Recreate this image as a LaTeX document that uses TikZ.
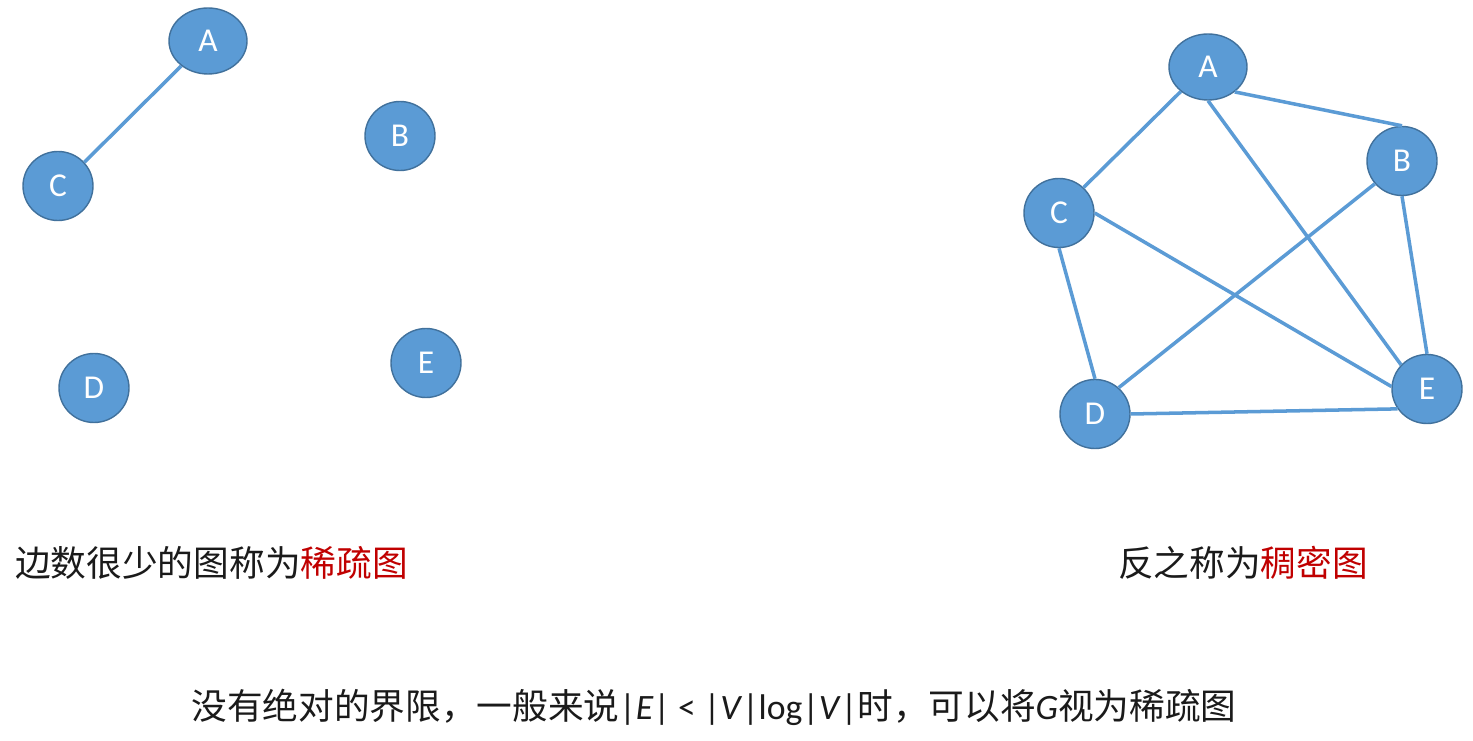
\documentclass[tikz,border=0pt]{standalone}
\usepackage{fontspec}
\setmainfont{Carlito}
\newfontfamily\cjk{Noto Sans CJK SC}
\newfontfamily\lat{Carlito}
\usetikzlibrary{shapes.geometric}

\definecolor{vfill}{HTML}{5B9BD5}
\definecolor{vline}{HTML}{41719C}
\definecolor{sred}{HTML}{C00000}
\definecolor{txt}{HTML}{1A1A1A}

\tikzset{
  vertex/.style={ellipse, fill=vfill, draw=vline, line width=0.8pt,
    minimum width=1.4cm, minimum height=1.38cm, inner sep=0pt,
    text=white, font=\lat\fontsize{19}{22}\selectfont},
  wide/.style={minimum width=1.56cm, minimum height=1.32cm},
  edge/.style={draw=vfill, line width=2pt},
  caption/.style={font=\cjk\fontsize{20.3}{24}\selectfont, text=txt, inner sep=0pt}
}

\begin{document}
\begin{tikzpicture}

\useasboundingbox (0,0) rectangle (29.46,-14.82);

% sparse graph
\node[vertex, wide] (lA) at (4.16, -0.82) {A};
\node[vertex] (lB) at (8.00, -2.72) {B};
\node[vertex] (lC) at (1.16, -3.72) {C};
\node[vertex] (lD) at (1.88, -7.76) {D};
\node[vertex] (lE) at (8.52, -7.26) {E};

\draw[edge] (lA.223) -- (lC.42);

% dense graph
\node[vertex, wide] (rA) at (24.16, -1.34) {A};
\node[vertex] (rB) at (28.04, -3.22) {B};
\node[vertex] (rC) at (21.18, -4.26) {C};
\node[vertex] (rD) at (21.90, -8.28) {D};
\node[vertex] (rE) at (28.54, -7.78) {E};

\draw[edge] (rA.222) -- (rC.46);
\draw[edge] (rA.317) -- (rB.north);
\draw[edge] (rA.south) -- (rE.137);
\draw[edge] (rC.east) -- (rE.176);
\draw[edge] (rC.south) -- (rD.north);
\draw[edge] (rB.220) -- (rD.48);
\draw[edge] (rB.south) -- (rE.north);
\draw[edge] (rD.east) -- (rE.214);

% captions
\node[caption] (sparse) at (4.23, -11.26) {边数很少的图称为\textcolor{sred}{稀疏图}};
\node[caption] (dense) at (24.86, -11.26) {反之称为\textcolor{sred}{稠密图}};
\node[caption] (rule) at (14.28, -14.14)
  {没有绝对的界限，一般来说{\lat|\textit{E}| < |\textit{V}|log|\textit{V}|}时，可以将{\lat\textit{G}}视为稀疏图};

\end{tikzpicture}
\end{document}
